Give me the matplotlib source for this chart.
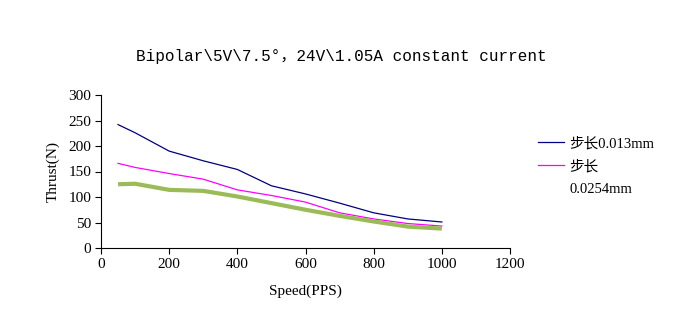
import matplotlib
matplotlib.use("Agg")
import matplotlib.pyplot as plt
from matplotlib.lines import Line2D

FONT = ["Liberation Serif", "Noto Sans CJK SC", "DejaVu Sans"]
MONO = ["Liberation Mono", "Noto Sans CJK SC", "DejaVu Sans"]
plt.rcParams["font.family"] = FONT

speed = [50, 100, 200, 300, 400, 500, 600, 700, 800, 900, 1000]
thrust_0013 = [242, 226, 190, 171, 154, 122, 106, 88, 69, 57, 51]
thrust_00254 = [166, 158, 146, 135, 114, 103, 90, 69, 57, 48, 43]
thrust_third = [125, 126, 114, 112, 101, 88, 75, 63, 52, 42, 38]

title = "Bipolar\\5V\\7.5°，24V\\1.05A constant current"
labels = ["步长0.013mm", "步长", "0.0254mm"]

fig = plt.figure(figsize=(6.95, 3.21), dpi=100)
ax = fig.add_axes([101 / 695, 1 - 248 / 321, 409 / 695, 153 / 321])

l1, = ax.plot(speed, thrust_0013, color="#000080", lw=0.9)
l2, = ax.plot(speed, thrust_00254, color="#FF00FF", lw=0.9)
ax.plot(speed, thrust_third, color="#9BBB59", lw=3.0, solid_capstyle="butt")

ax.set_xlim(0, 1200)
ax.set_ylim(0, 300)
ax.set_xticks(range(0, 1201, 200))
ax.set_yticks(range(0, 301, 50))
for s in ("top", "right"):
    ax.spines[s].set_visible(False)
ax.tick_params(length=4, width=0.8, labelsize=11, pad=3)
ax.set_xlabel("Speed(PPS)", fontsize=11, labelpad=10)
ax.set_ylabel("Thrust(N)", fontsize=11, labelpad=6)

fig.text(341 / 695, 1 - 56 / 321, title, ha="center", va="center",
         fontsize=11.5, family=MONO)

blank = Line2D([], [], color="none")
fig.legend([l1, l2, blank], labels, loc="upper left",
           bbox_to_anchor=(532 / 695, 1 - 131 / 321), frameon=False,
           fontsize=10.5, handlelength=1.8, handletextpad=0.35,
           labelspacing=0.65, borderaxespad=0)

fig.savefig("out.png", dpi=100)
